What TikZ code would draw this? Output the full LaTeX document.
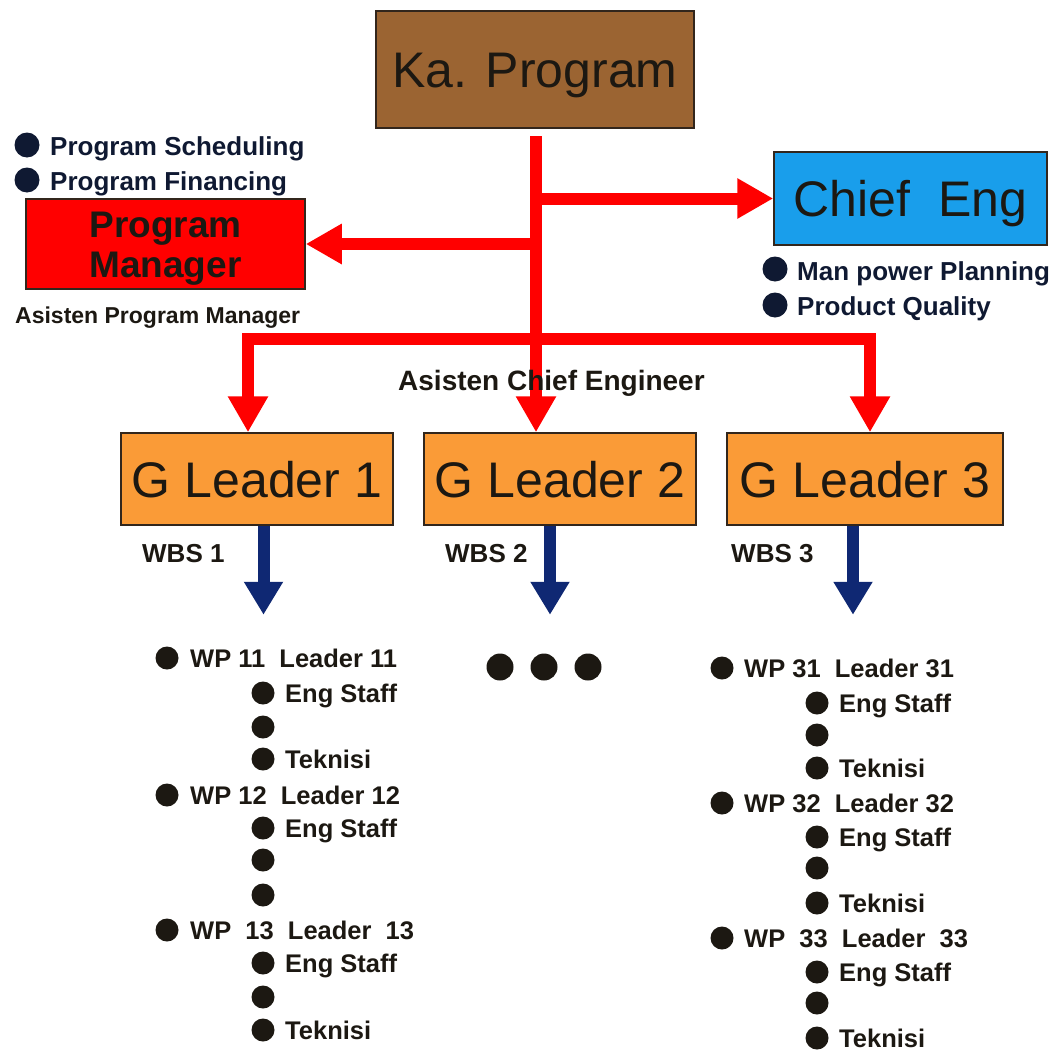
\documentclass[tikz,border=0pt]{standalone}
\usepackage{fontspec}
\setmainfont{Liberation Sans}
\usetikzlibrary{arrows.meta}
\definecolor{kabrown}{RGB}{155,100,50}
\definecolor{chiefblue}{RGB}{25,158,235}
\definecolor{pmred}{RGB}{255,0,0}
\definecolor{glorange}{RGB}{250,155,55}
\definecolor{arrnavy}{RGB}{15,40,115}
\definecolor{topnavy}{RGB}{15,25,50}
\definecolor{txtdark}{RGB}{28,24,18}
\definecolor{boxedge}{RGB}{50,38,28}
\begin{document}
\begin{tikzpicture}[x=1pt,y=-1pt,
  bigbox/.style={draw=boxedge, line width=1.5pt, inner sep=0pt, text=txtdark,
    font=\fontsize{50}{56}\selectfont, text height=36pt, text depth=0pt},
  bul/.style={circle, fill=#1, inner sep=0pt, minimum size=23pt},
  bul/.default=txtdark,
  tbul/.style={circle, fill=topnavy, inner sep=0pt, minimum size=25pt},
  lbl/.style={anchor=base west, inner sep=0pt, text=txtdark,
    font=\bfseries\fontsize{25.5}{28}\selectfont},
  toplbl/.style={anchor=base west, inner sep=0pt, text=topnavy,
    font=\bfseries\fontsize{26}{30}\selectfont},
  asis/.style={anchor=base west, inner sep=0pt, text=txtdark,
    font=\bfseries\fontsize{#1}{28}\selectfont},
  redline/.style={draw=pmred, line width=12pt, line join=miter},
  redtip/.style={-{Triangle[width=38pt,length=36pt]}},
  redarrow/.style={redline, redtip},
  bluearrow/.style={draw=arrnavy, line width=12pt, -{Triangle[width=37pt,length=33pt]}}
]
\useasboundingbox (0,0) rectangle (1056,1057);

% boxes
\node[bigbox, fill=kabrown, minimum width=318pt, minimum height=117pt] (kap) at (535,69.5) {Ka. Program};
\node[bigbox, fill=chiefblue, minimum width=273pt, minimum height=93pt] (chief) at (910.5,198.5) {Chief\ \ Eng};
\node[draw=boxedge, line width=1.5pt, fill=pmred, inner sep=0pt, text=txtdark,
  minimum width=279pt, minimum height=90pt, align=center,
  font=\bfseries\fontsize{37}{40}\selectfont, text height=74pt, text depth=8pt]
  (pm) at (165.5,244) {Program\\Manager};
\node[bigbox, fill=glorange, minimum width=272pt, minimum height=92pt] (g1) at (257,479) {G Leader 1};
\node[bigbox, fill=glorange, minimum width=272pt, minimum height=92pt] (g2) at (560,479) {G Leader 2};
\node[bigbox, fill=glorange, minimum width=276pt, minimum height=92pt] (g3) at (865,479) {G Leader 3};

% red connectors
\coordinate (s0) at (536,136);
\coordinate (jc) at (536,198.5);
\coordinate (jp) at (536,244);
\coordinate (b1) at (248,339);
\coordinate (b3) at (870,339);
\draw[redarrow] (s0) -- (s0 |- g2.north);
\draw[redarrow] (jc) -- (chief.west);
\draw[redarrow] (jp) -- (pm.east);
\draw[redline, {Triangle[width=38pt,length=36pt]}-{Triangle[width=38pt,length=36pt]}]
  (b1 |- g1.north) -- (b1) -- (b3) -- (b3 |- g3.north);

% blue connectors
\coordinate (w1a) at ([xshift=6.5pt]g1.south);
\coordinate (w1b) at ([xshift=6.5pt,yshift=-89pt]g1.south);
\coordinate (w2a) at ([xshift=-10pt]g2.south);
\coordinate (w2b) at ([xshift=-10pt,yshift=-89pt]g2.south);
\coordinate (w3a) at ([xshift=-12pt]g3.south);
\coordinate (w3b) at ([xshift=-12pt,yshift=-89pt]g3.south);
\draw[bluearrow] (w1a) -- (w1b);
\draw[bluearrow] (w2a) -- (w2b);
\draw[bluearrow] (w3a) -- (w3b);

% top bullets
\node[tbul] (ps) at (27,145) {};
\node[toplbl] (pst) at (50,155) {Program Scheduling};
\node[tbul] (pf) at (27,180) {};
\node[toplbl] (pft) at (50,190) {Program Financing};
\node[asis=23] (apm) at (15,323) {Asisten Program Manager};
\node[tbul] (mp) at (775,269) {};
\node[toplbl] (mpt) at (797,280) {Man power Planning};
\node[tbul] (pq) at (775,305) {};
\node[toplbl] (pqt) at (797,315) {Product Quality};
\node[asis=28] (ace) at (398,390) {Asisten Chief Engineer};

% WBS labels
\node[asis=26] (wbs1) at (142,562) {WBS 1};
\node[asis=26] (wbs2) at (445,562) {WBS 2};
\node[asis=26] (wbs3) at (731,562) {WBS 3};

% dots under G Leader 2
\node[bul, minimum size=27pt] (d1) at (500,667) {};
\node[bul, minimum size=27pt] (d2) at (544,667) {};
\node[bul, minimum size=27pt] (d3) at (588,667) {};

% left list
\node[bul] (l1) at (167,658) {};  \node[lbl] (l1t) at (190,667) {WP 11\ \ Leader 11};
\node[bul] (l2) at (263,693) {};  \node[lbl] (l2t) at (285,702) {Eng Staff};
\node[bul] (l3) at (263,727) {};
\node[bul] (l4) at (263,759) {};  \node[lbl] (l4t) at (285,768) {Teknisi};
\node[bul] (l5) at (167,795) {};  \node[lbl] (l5t) at (190,804) {WP 12\ \ Leader 12};
\node[bul] (l6) at (263,828) {};  \node[lbl] (l6t) at (285,837) {Eng Staff};
\node[bul] (l7) at (263,860) {};
\node[bul] (l8) at (263,895) {};
\node[bul] (l9) at (167,930) {};  \node[lbl] (l9t) at (190,939) {WP\ \ 13\ \ Leader\ \ 13};
\node[bul] (l10) at (263,963) {}; \node[lbl] (l10t) at (285,972) {Eng Staff};
\node[bul] (l11) at (263,997) {};
\node[bul] (l12) at (263,1030) {}; \node[lbl] (l12t) at (285,1039) {Teknisi};

% right list
\node[bul] (r1) at (722,668) {};  \node[lbl] (r1t) at (744,677) {WP 31\ \ Leader 31};
\node[bul] (r2) at (817,703) {};  \node[lbl] (r2t) at (839,712) {Eng Staff};
\node[bul] (r3) at (817,735) {};
\node[bul] (r4) at (817,768) {};  \node[lbl] (r4t) at (839,777) {Teknisi};
\node[bul] (r5) at (722,803) {};  \node[lbl] (r5t) at (744,812) {WP 32\ \ Leader 32};
\node[bul] (r6) at (817,837) {};  \node[lbl] (r6t) at (839,846) {Eng Staff};
\node[bul] (r7) at (817,868) {};
\node[bul] (r8) at (817,903) {};  \node[lbl] (r8t) at (839,912) {Teknisi};
\node[bul] (r9) at (722,938) {};  \node[lbl] (r9t) at (744,947) {WP\ \ 33\ \ Leader\ \ 33};
\node[bul] (r10) at (817,972) {}; \node[lbl] (r10t) at (839,981) {Eng Staff};
\node[bul] (r11) at (817,1003) {};
\node[bul] (r12) at (817,1038) {}; \node[lbl] (r12t) at (839,1047) {Teknisi};
\end{tikzpicture}
\end{document}
